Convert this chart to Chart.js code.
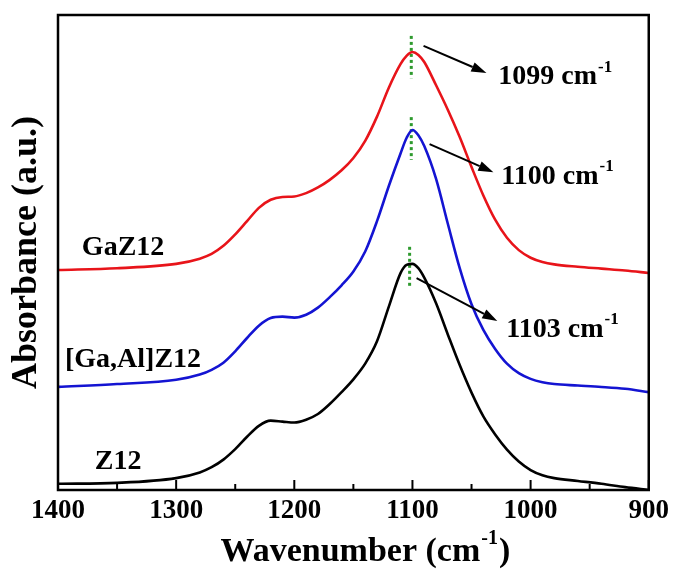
<!DOCTYPE html>
<html><head><meta charset="utf-8">
<script src="https://cdn.jsdelivr.net/npm/chart.js@4/dist/chart.umd.min.js"></script>
<style>html,body{margin:0;padding:0;background:#fff}#wrap{width:674px;height:576px}</style>
</head><body><div id="wrap"><canvas id="c" width="674" height="576"></canvas></div>
<script>
// ---- data ----
const wavenumbers = [1400,1350,1300,1280,1270,1260,1250,1240,1230,1220,1210,1200,1190,1180,1170,1160,1150,1140,1130,1120,1110,1105,1100,1095,1090,1080,1070,1060,1050,1040,1030,1020,1010,1000,990,980,960,940,920,900];
const gaZ12   = [0.463,0.467,0.476,0.487,0.497,0.514,0.538,0.566,0.594,0.611,0.617,0.618,0.625,0.637,0.653,0.673,0.699,0.735,0.786,0.847,0.897,0.914,0.922,0.916,0.901,0.852,0.800,0.743,0.680,0.620,0.569,0.531,0.505,0.489,0.480,0.475,0.470,0.466,0.462,0.457];
const gaAlZ12 = [0.217,0.223,0.232,0.243,0.253,0.268,0.292,0.320,0.346,0.362,0.365,0.363,0.369,0.384,0.406,0.431,0.460,0.502,0.566,0.640,0.709,0.741,0.758,0.747,0.724,0.655,0.560,0.467,0.391,0.337,0.297,0.266,0.246,0.234,0.227,0.223,0.220,0.217,0.213,0.206];
const z12     = [0.013,0.015,0.025,0.037,0.048,0.064,0.086,0.112,0.135,0.146,0.144,0.142,0.148,0.160,0.181,0.206,0.233,0.266,0.313,0.386,0.457,0.474,0.476,0.467,0.447,0.393,0.327,0.263,0.205,0.155,0.117,0.085,0.060,0.042,0.031,0.025,0.019,0.013,0.006,0.000];
const seriesNames = ['GaZ12','[Ga,Al]Z12','Z12'];
const majorTicks = [1400,1300,1200,1100,1000,900];
const minorTicks = [1350,1250,1150,1050,950];
// peak markers (green dotted) : wavenumber, top, bottom
const peakX      = [1101,1101,1102.4];
const peakTop    = [0.956,0.785,0.512];
const peakBottom = [0.867,0.695,0.425];
const peakLabels = ['1099','1100','1103'];
// arrows: start/end in data units
const arrowX0 = [1090.6,1085.5,1096.5];
const arrowY0 = [0.935,0.728,0.446];
const arrowX1 = [1037.4,1031.5,1028.2];
const arrowY1 = [0.878,0.669,0.356];
// label anchors (left edge, vertical centre) in data units
const peakLabelX = [1027.3,1024.8,1020.6];
const peakLabelY = [0.869,0.659,0.337];
const nameX = [1379.8,1394.1,1368.8];
const nameY = [0.509,0.274,0.059];

const SERIF = "'Liberation Serif','Times New Roman',serif";
const colors = ['#e8141a','#1414d2','#000000'];

const toPts = arr => wavenumbers.map((w,i)=>({x:w,y:arr[i]}));
const datasets = [gaZ12,gaAlZ12,z12].map((arr,i)=>({
  label: seriesNames[i], data: toPts(arr), borderColor: colors[i], borderWidth: 2.6,
  pointRadius: 0, cubicInterpolationMode: 'monotone', fill: false
}));
peakX.forEach((x,i)=>datasets.push({
  label: 'peak'+i, data:[{x:x,y:peakTop[i]},{x:x,y:peakBottom[i]}],
  borderColor:'#2e9a2e', borderWidth:3, borderDash:[3,3], pointRadius:0
}));

function drawSup(ctx, main, sup, x, y, size){
  ctx.font = `bold ${size}px ${SERIF}`;
  ctx.textBaseline = 'middle'; ctx.textAlign = 'left';
  ctx.fillText(main, x, y);
  const w = ctx.measureText(main).width;
  ctx.font = `bold ${Math.round(size*0.6)}px ${SERIF}`;
  ctx.fillText(sup, x + w + 1, y - size*0.36);
  return w + ctx.measureText(sup).width + 1;
}

const decor = {
  id:'decor',
  afterDraw(chart){
    const {ctx, chartArea:a, scales:{x, y}} = chart;
    ctx.save();
    ctx.fillStyle = '#000'; ctx.strokeStyle = '#000';
    // frame
    ctx.lineWidth = 2.5;
    ctx.strokeRect(a.left, a.top, a.right-a.left, a.bottom-a.top);
    // inward ticks on bottom axis
    ctx.lineWidth = 2;
    majorTicks.forEach(v=>{const px=x.getPixelForValue(v);ctx.beginPath();ctx.moveTo(px,a.bottom);ctx.lineTo(px,a.bottom-10);ctx.stroke();});
    minorTicks.forEach(v=>{const px=x.getPixelForValue(v);ctx.beginPath();ctx.moveTo(px,a.bottom);ctx.lineTo(px,a.bottom-6);ctx.stroke();});
    // arrows
    ctx.lineWidth = 2;
    arrowX0.forEach((_,i)=>{
      const x0=x.getPixelForValue(arrowX0[i]), y0=y.getPixelForValue(arrowY0[i]);
      const x1=x.getPixelForValue(arrowX1[i]), y1=y.getPixelForValue(arrowY1[i]);
      const ang=Math.atan2(y1-y0,x1-x0), L=15, W=5;
      const bx=x1-L*Math.cos(ang), by=y1-L*Math.sin(ang);
      ctx.beginPath();ctx.moveTo(x0,y0);ctx.lineTo(bx,by);ctx.stroke();
      ctx.beginPath();ctx.moveTo(x1,y1);
      ctx.lineTo(bx+W*Math.sin(ang), by-W*Math.cos(ang));
      ctx.lineTo(bx-W*Math.sin(ang), by+W*Math.cos(ang));
      ctx.closePath();ctx.fill();
    });
    // peak labels
    peakLabels.forEach((t,i)=>{
      drawSup(ctx, t+' cm', '-1', x.getPixelForValue(peakLabelX[i]), y.getPixelForValue(peakLabelY[i]), 28);
    });
    // series names
    ctx.font = `bold 28px ${SERIF}`; ctx.textAlign='left'; ctx.textBaseline='middle';
    seriesNames.forEach((t,i)=>ctx.fillText(t, x.getPixelForValue(nameX[i]), y.getPixelForValue(nameY[i])));
    // x-axis title
    ctx.font = `bold 34px ${SERIF}`;
    const main='Wavenumber (cm', tail=')';
    const wMain=ctx.measureText(main).width;
    ctx.font = `bold 20px ${SERIF}`; const wSup=ctx.measureText('-1').width;
    ctx.font = `bold 34px ${SERIF}`; const wTail=ctx.measureText(tail).width;
    const total=wMain+wSup+2+wTail;
    let sx=(a.left+a.right)/2 - total/2 + 12, sy=552;
    ctx.fillText(main, sx, sy);
    ctx.font = `bold 20px ${SERIF}`; ctx.fillText('-1', sx+wMain+1, sy-13);
    ctx.font = `bold 34px ${SERIF}`; ctx.fillText(tail, sx+wMain+wSup+2, sy);
    ctx.restore();
  }
};

new Chart(document.getElementById('c'), {
  type:'line',
  data:{datasets},
  options:{
    responsive:false, animation:false, devicePixelRatio:1,
    layout:{padding:{top:15,right:23,left:0,bottom:0}},
    plugins:{legend:{display:false}, tooltip:{enabled:false}},
    scales:{
      x:{type:'linear', reverse:true, min:900, max:1400,
         afterFit(s){s.height=86;},
         afterBuildTicks(s){s.ticks = majorTicks.map(v=>({value:v}));},
         grid:{display:false, drawTicks:false}, border:{display:false},
         ticks:{padding:5, color:'#000', font:{family:SERIF, size:27, weight:'bold'}, maxRotation:0, autoSkip:false,
                callback:(v)=>String(v)}},
      y:{min:0, max:1,
         afterFit(s){s.width=58;},
         grid:{display:false, drawTicks:false}, border:{display:false},
         ticks:{display:false},
         title:{display:true, text:'Absorbance (a.u.)', color:'#000', padding:{top:5,bottom:0},
                font:{family:SERIF, size:36, weight:'bold'}}}
    }
  },
  plugins:[decor]
});
</script></body></html>
